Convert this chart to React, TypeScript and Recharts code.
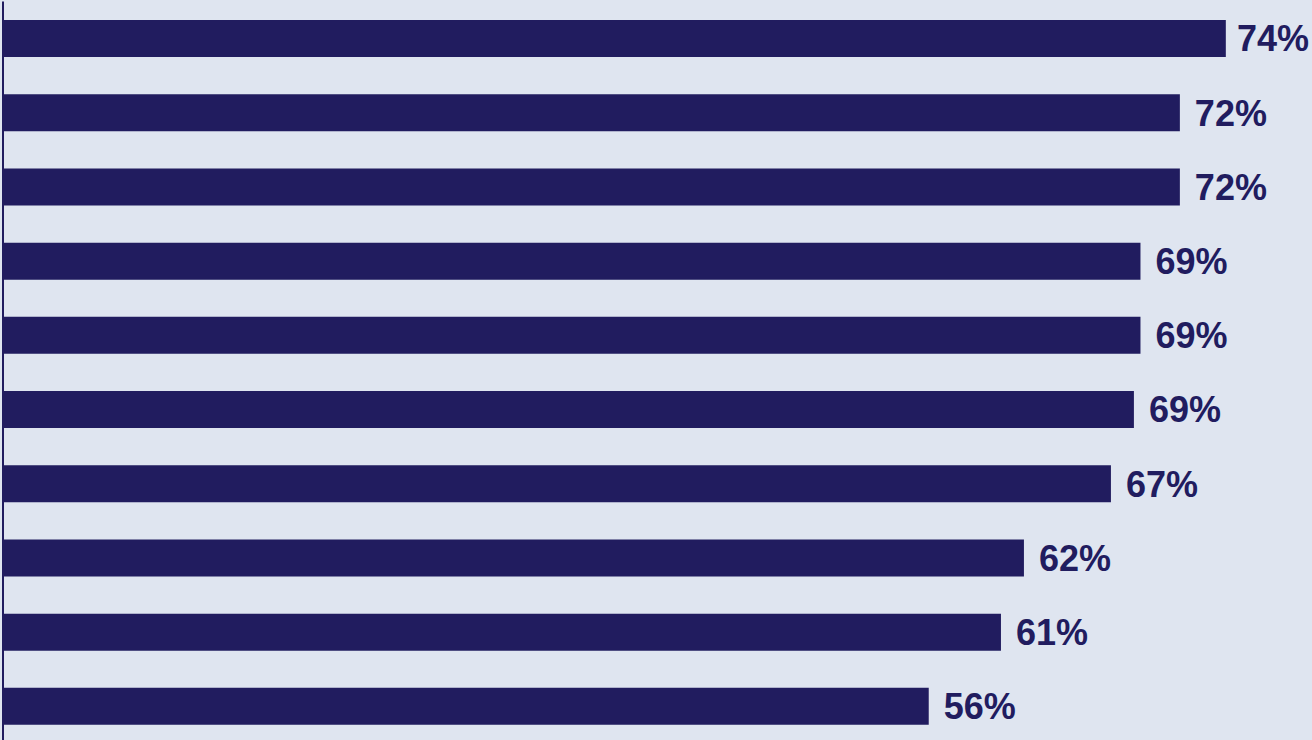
import { Bar, BarChart, LabelList, XAxis, YAxis } from 'recharts';

const CATEGORIES = ['c1', 'c2', 'c3', 'c4', 'c5', 'c6', 'c7', 'c8', 'c9', 'c10'];
const VALUES = [74.5, 71.7, 71.7, 69.3, 69.3, 68.9, 67.5, 62.2, 60.8, 56.4];
const LABELS = ['74%', '72%', '72%', '69%', '69%', '69%', '67%', '62%', '61%', '56%'];

const NAVY = '#211c5f';
const BG = '#dfe5f0';
const CHART_W = 1312;

const data = CATEGORIES.map((name, i) => ({ name, value: VALUES[i], label: LABELS[i] }));

// label sits right of the bar, but is pushed back in when it would run off the edge
const renderLabel = (props: any) => {
  const { x, y, width, height, value } = props;
  const lx = Math.min(Number(x) + Number(width) + 15, CHART_W - 75);
  return (
    <text
      x={lx}
      y={Number(y) + Number(height) / 2}
      dy="0.355em"
      fill={NAVY}
      textAnchor="start"
      style={{ fontFamily: 'Liberation Sans, Arial, sans-serif', fontWeight: 700, fontSize: 36 }}
    >
      {value}
    </text>
  );
};

export default function App() {
  return (
    <div
      style={{
        position: 'absolute',
        left: 0,
        top: 0,
        width: CHART_W,
        height: 740,
        overflow: 'hidden',
        background: BG,
      }}
    >
      <BarChart
        layout="vertical"
        width={CHART_W}
        height={744}
        data={data}
        margin={{ top: 1.5, right: 0, bottom: 0.5, left: 0 }}
        barCategoryGap="25%"
      >
        <XAxis type="number" dataKey="value" domain={[0, 79.75]} allowDataOverflow hide />
        <YAxis
          type="category"
          dataKey="name"
          width={3}
          tick={false}
          tickLine={false}
          axisLine={{ stroke: NAVY, strokeWidth: 2 }}
        />
        <Bar dataKey="value" fill={NAVY} isAnimationActive={false}>
          <LabelList dataKey="label" content={renderLabel} />
        </Bar>
      </BarChart>
    </div>
  );
}
